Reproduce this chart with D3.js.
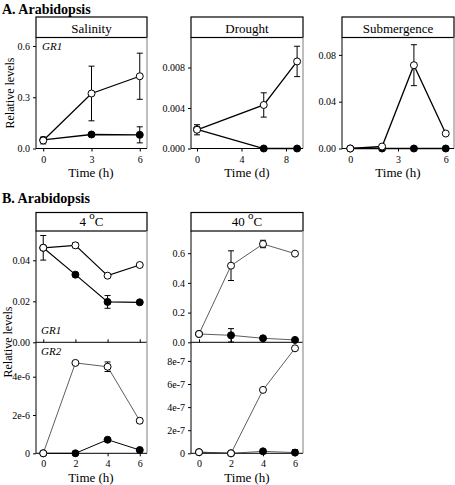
<!DOCTYPE html>
<html><head><meta charset="utf-8">
<script src="https://cdn.jsdelivr.net/npm/d3@7"></script>
<style>body{margin:0;background:#fff} text{font-family:"Liberation Serif",serif}</style>
</head><body><svg id="c" width="455" height="485"></svg>
<script>
// ---- Data ----
const salinityX = [0, 3, 6];
const salinityOpen = [0.047, 0.322, 0.423];
const salinityOpenErr = [0.02, 0.16, 0.135];
const salinityFilled = [0.05, 0.082, 0.08];
const salinityFilledErr = [0, 0.008, 0.047];
const salinityYTicks = [0, 0.3, 0.6];
const salinityYLabels = ["0.0", "0.3", "0.6"];
const salinityXTicks = [0, 3, 6];

const droughtX = [0, 6, 9];
const droughtOpen = [0.00185, 0.0043, 0.0086];
const droughtOpenErr = [0.0005, 0.0012, 0.0015];
const droughtFilled = [0.0019, 0, 0];
const droughtFilledErr = [0, 0, 0];
const droughtYTicks = [0, 0.004, 0.008];
const droughtYLabels = ["0.000", "0.004", "0.008"];
const droughtXTicks = [0, 4, 8];

const submergenceX = [0, 2, 4, 6];
const submergenceOpen = [0, 0.0017, 0.0712, 0.0128];
const submergenceOpenErr = [0, 0, 0.0175, 0];
const submergenceFilled = [0, 0, 0, 0];
const submergenceFilledErr = [0, 0, 0, 0];
const submergenceYTicks = [0, 0.04, 0.08];
const submergenceYLabels = ["0.00", "0.04", "0.08"];
const submergenceXTicks = [0, 3, 6];

const tempX = [0, 2, 4, 6];
const cold_GR1_Open = [0.0461, 0.0473, 0.0325, 0.0377];
const cold_GR1_OpenErr = [0.006, 0.0012, 0.0005, 0.0008];
const cold_GR1_Filled = [0.0461, 0.033, 0.0197, 0.0195];
const cold_GR1_FilledErr = [0, 0.0005, 0.0031, 0.0008];
const cold_GR2_Open = [0, 4.72e-6, 4.52e-6, 1.7e-6];
const cold_GR2_OpenErr = [0, 0.05e-6, 0.25e-6, 0.12e-6];
const cold_GR2_Filled = [0, 0, 0.71e-6, 0.17e-6];
const cold_GR2_FilledErr = [0, 0, 0.05e-6, 0.05e-6];

const heat_GR1_Open = [0.056, 0.516, 0.662, 0.597];
const heat_GR1_OpenErr = [0, 0.1, 0.025, 0.005];
const heat_GR1_Filled = [0.056, 0.047, 0.027, 0.016];
const heat_GR1_FilledErr = [0, 0.045, 0, 0];
const heat_GR2_Open = [0.1e-7, 0, 5.49e-7, 9.09e-7];
const heat_GR2_OpenErr = [0, 0, 0.05e-7, 0.05e-7];
const heat_GR2_Filled = [0.1e-7, 0, 0.17e-7, 0.06e-7];
const heat_GR2_FilledErr = [0, 0, 0.03e-7, 0.25e-7];

const tempXTicks = [0, 2, 4, 6];
const coldGR1YTicks = [0, 0.02, 0.04];
const coldGR1YLabels = ["0.00", "0.02", "0.04"];
const coldGR2YTicks = [0, 2e-6, 4e-6];
const coldGR2YLabels = ["0", "2e-6", "4e-6"];
const heatGR1YTicks = [0, 0.2, 0.4, 0.6];
const heatGR1YLabels = ["0.0", "0.2", "0.4", "0.6"];
const heatGR2YTicks = [0, 2e-7, 4e-7, 6e-7, 8e-7];
const heatGR2YLabels = ["0", "2e-7", "4e-7", "6e-7", "8e-7"];

// ---- Drawing ----
const svg = d3.select("#c");

function zip(xs, ys, es){ return xs.map((x,i)=>({x, y: ys[i], e: es[i]})); }

function label(x, y, s, opts={}){
  const t = svg.append("text").attr("x", x).attr("y", y).text(s)
    .attr("font-size", opts.size || 12).attr("fill","#000")
    .attr("text-anchor", opts.anchor || "start");
  if (opts.bold) t.attr("font-weight","bold");
  if (opts.italic) t.attr("font-style","italic");
  if (opts.rotate) t.attr("transform", `rotate(-90,${x},${y})`);
  return t;
}

function strip(x0, x1, y0, y1, lab, sup){
  svg.append("rect").attr("x", x0).attr("y", y0).attr("width", x1-x0).attr("height", y1-y0)
    .attr("fill","#fff").attr("stroke","#000").attr("stroke-width", 1.2);
  const t = svg.append("text").attr("x", (x0+x1)/2).attr("y", y1-5).attr("text-anchor","middle")
    .attr("font-size", 13).attr("fill","#000");
  if (sup) {
    t.append("tspan").text(lab + " ");
    t.append("tspan").attr("dy", -7).attr("font-size", 11).text("o");
    t.append("tspan").attr("dy", 7).text("C");
  } else t.text(lab);
}

// Titles first
label(2, 14, "A. Arabidopsis", {size: 14, bold: true});
label(2, 203, "B. Arabidopsis", {size: 14, bold: true});

function drawPlot(o){
  const g = svg.append("g");
  const x = d3.scaleLinear().domain(o.xdom).range([o.x0, o.x1]);
  const y = d3.scaleLinear().domain(o.ydom).range([o.y1, o.y0]);
  g.append("line").attr("x1", o.x1).attr("x2", o.x1).attr("y1", o.y0).attr("y2", o.y1)
    .attr("stroke", "#a8a8a8").attr("stroke-width", 1.5);
  const ya = d3.axisLeft(y).tickValues(o.yTicks).tickSize(3).tickPadding(3).tickFormat((d,i)=>o.yFmt[i]);
  const yg = g.append("g").attr("transform", `translate(${o.x0},0)`).call(ya);
  yg.attr("font-family", null).attr("font-size", 10);
  yg.select(".domain").attr("stroke","#000").attr("d", `M0,${o.y0}V${o.y1}`);
  yg.selectAll("text").attr("fill","#000");
  const xa = (o.xTickDir === "up" ? d3.axisTop(x) : d3.axisBottom(x))
    .tickValues(o.xTicks).tickSize(3).tickPadding(4).tickFormat(d3.format("d"));
  const xg = g.append("g").attr("transform", `translate(0,${o.y1})`).call(xa);
  xg.attr("font-family", null).attr("font-size", 10);
  xg.select(".domain").attr("d", `M${o.x0},0H${o.x1}`).attr("stroke","#000");
  if (o.xTickDir === "up") xg.selectAll("text").remove();
  else xg.selectAll("text").attr("fill","#000");

  const line = d3.line().x(d=>x(d.x)).y(d=>y(d.y));
  o.series.forEach(s=>{
    g.append("path").datum(s.data).attr("d", line).attr("fill","none")
      .attr("stroke", s.lineColor || "#000").attr("stroke-width", s.lw || 1);
  });
  o.series.forEach(s=>{
    s.data.forEach(d=>{
      if (d.e > 0) {
        const ya1 = y(d.y + d.e), ya2 = y(Math.max(0, d.y - d.e));
        g.append("line").attr("x1", x(d.x)).attr("x2", x(d.x)).attr("y1", ya1).attr("y2", ya2).attr("stroke","#000");
        [ya1, ya2].forEach(yy=>g.append("line").attr("x1", x(d.x)-3).attr("x2", x(d.x)+3)
          .attr("y1", yy).attr("y2", yy).attr("stroke","#000"));
      }
    });
  });
  o.series.forEach(s=>{
    g.selectAll(null).data(s.data).enter().append("circle")
      .attr("cx", d=>x(d.x)).attr("cy", d=>y(d.y)).attr("r", 3.5)
      .attr("fill", s.filled ? "#000" : "#fff").attr("stroke","#000").attr("stroke-width", 1);
  });
}

// Panel A
const aTop = 37.5, aBot = 148.5;
strip(36, 147, 17, aTop, "Salinity");
drawPlot({x0:36, x1:147, y0:aTop, y1:aBot, xdom:[-0.45,6.45], ydom:[0,0.6*(aBot-aTop)/102.5],
  yTicks: salinityYTicks, yFmt: salinityYLabels, xTicks: salinityXTicks,
  series:[{data: zip(salinityX, salinityFilled, salinityFilledErr), filled:true, lw:1.3},
          {data: zip(salinityX, salinityOpen, salinityOpenErr), filled:false, lw:1.3}]});
label(42, 50, "GR1", {size: 11, italic: true});
label(91, 177, "Time (h)", {size: 13, anchor:"middle"});
label(14, 93, "Relative levels", {size: 12, anchor:"middle", rotate:true});

strip(191, 303, 17, aTop, "Drought");
drawPlot({x0:191, x1:303, y0:aTop, y1:aBot, xdom:[-0.54,9.53], ydom:[0,0.004*(aBot-aTop)/40.5],
  yTicks: droughtYTicks, yFmt: droughtYLabels, xTicks: droughtXTicks,
  series:[{data: zip(droughtX, droughtFilled, droughtFilledErr), filled:true, lw:1.3},
          {data: zip(droughtX, droughtOpen, droughtOpenErr), filled:false, lw:1.3}]});
label(247, 177, "Time (d)", {size: 13, anchor:"middle"});

strip(342, 454, 17, aTop, "Submergence");
drawPlot({x0:342, x1:454, y0:aTop, y1:aBot, xdom:[-0.52,6.52], ydom:[0,0.04*(aBot-aTop)/46.8],
  yTicks: submergenceYTicks, yFmt: submergenceYLabels, xTicks: submergenceXTicks,
  series:[{data: zip(submergenceX, submergenceFilled, submergenceFilledErr), filled:true, lw:1.3},
          {data: zip(submergenceX, submergenceOpen, submergenceOpenErr), filled:false, lw:1.3}]});
label(398, 177, "Time (h)", {size: 13, anchor:"middle"});

// Panel B
const bTop = 231, bMid = 342.3, bBot = 453.3;
strip(36, 147, 212.5, bTop, "4", true);
drawPlot({x0:36, x1:147, y0:bTop, y1:bMid, xdom:[-0.45,6.45], ydom:[0,0.02*(bMid-bTop)/41],
  yTicks: coldGR1YTicks, yFmt: coldGR1YLabels, xTicks: tempXTicks, xTickDir:"up",
  series:[{data: zip(tempX, cold_GR1_Filled, cold_GR1_FilledErr), filled:true, lw:1.2},
          {data: zip(tempX, cold_GR1_Open, cold_GR1_OpenErr), filled:false, lw:1.2}]});
drawPlot({x0:36, x1:147, y0:bMid, y1:bBot, xdom:[-0.45,6.45], ydom:[0,2e-6*(bBot-bMid)/38.3],
  yTicks: coldGR2YTicks, yFmt: coldGR2YLabels, xTicks: tempXTicks,
  series:[{data: zip(tempX, cold_GR2_Filled, cold_GR2_FilledErr), filled:true, lw:1},
          {data: zip(tempX, cold_GR2_Open, cold_GR2_OpenErr), filled:false, lw:0.8, lineColor:"#333"}]});
label(41, 334, "GR1", {size: 11, italic: true});
label(41, 355, "GR2", {size: 11, italic: true});
label(91, 482, "Time (h)", {size: 13, anchor:"middle"});
label(12, 342, "Relative levels", {size: 12, anchor:"middle", rotate:true});

strip(191, 303, 212.5, bTop, "40", true);
drawPlot({x0:191, x1:303, y0:bTop, y1:bMid, xdom:[-0.5,6.5], ydom:[0,0.2*(bMid-bTop)/29.7],
  yTicks: heatGR1YTicks, yFmt: heatGR1YLabels, xTicks: tempXTicks, xTickDir:"up",
  series:[{data: zip(tempX, heat_GR1_Filled, heat_GR1_FilledErr), filled:true, lw:0.8, lineColor:"#333"},
          {data: zip(tempX, heat_GR1_Open, heat_GR1_OpenErr), filled:false, lw:0.8, lineColor:"#333"}]});
drawPlot({x0:191, x1:303, y0:bMid, y1:bBot, xdom:[-0.5,6.5], ydom:[0,2e-7*(bBot-bMid)/23.1],
  yTicks: heatGR2YTicks, yFmt: heatGR2YLabels, xTicks: tempXTicks,
  series:[{data: zip(tempX, heat_GR2_Filled, heat_GR2_FilledErr), filled:true, lw:0.8, lineColor:"#333"},
          {data: zip(tempX, heat_GR2_Open, heat_GR2_OpenErr), filled:false, lw:0.8, lineColor:"#333"}]});
label(247, 482, "Time (h)", {size: 13, anchor:"middle"});
</script></body></html>
